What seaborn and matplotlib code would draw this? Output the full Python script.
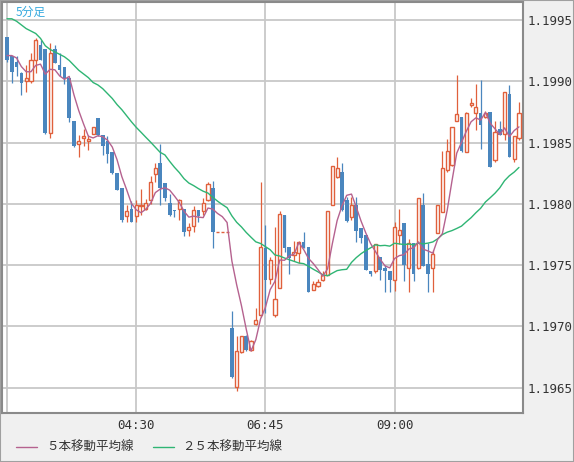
import matplotlib
matplotlib.use("Agg")
import matplotlib.pyplot as plt
from matplotlib.lines import Line2D
from matplotlib.patches import Rectangle
import numpy as np
import pandas as pd
import seaborn as sns

# 5-minute EUR/USD bars, 02:15 .. 11:10
opens = [
    1.19936, 1.19921, 1.19916, 1.19907, 1.19900, 1.19900, 1.19917, 1.19930, 1.19926, 1.19858,
    1.19926, 1.19913, 1.19912, 1.19903, 1.19868, 1.19849, 1.19854, 1.19851, 1.19857, 1.19870,
    1.19856, 1.19851, 1.19842, 1.19825, 1.19813, 1.19790, 1.19796, 1.19790, 1.19798, 1.19796,
    1.19803, 1.19824, 1.19833, 1.19817, 1.19801, 1.19795, 1.19796, 1.19796, 1.19779, 1.19782,
    1.19795, 1.19794, 1.19803, 1.19813, 1.19777, 1.19777, 1.19777, 1.19699, 1.19651, 1.19679,
    1.19692, 1.19681, 1.19702, 1.19709, 1.19764, 1.19739, 1.19709, 1.19731, 1.19791, 1.19765,
    1.19758, 1.19760, 1.19769, 1.19765, 1.19730, 1.19733, 1.19738, 1.19742, 1.19799, 1.19822,
    1.19826, 1.19803, 1.19789, 1.19799, 1.19780, 1.19775, 1.19745, 1.19745, 1.19757, 1.19748,
    1.19745, 1.19738, 1.19775, 1.19784, 1.19748, 1.19768, 1.19748, 1.19799, 1.19751, 1.19748,
    1.19776, 1.19793, 1.19828, 1.19832, 1.19868, 1.19871, 1.19842, 1.19881, 1.19874, 1.19874,
    1.19871, 1.19875, 1.19836, 1.19861, 1.19857, 1.19890, 1.19837, 1.19854,
]
highs = [
    1.19936, 1.19921, 1.19921, 1.19908, 1.19913, 1.19923, 1.19935, 1.19934, 1.19926, 1.19931,
    1.19930, 1.19923, 1.19912, 1.19903, 1.19868, 1.19856, 1.19861, 1.19856, 1.19863, 1.19870,
    1.19856, 1.19855, 1.19842, 1.19825, 1.19813, 1.19799, 1.19802, 1.19803, 1.19812, 1.19804,
    1.19823, 1.19833, 1.19849, 1.19817, 1.19808, 1.19795, 1.19804, 1.19796, 1.19784, 1.19798,
    1.19795, 1.19805, 1.19818, 1.19819, 1.19777, 1.19777, 1.19777, 1.19713, 1.19692, 1.19692,
    1.19693, 1.19689, 1.19715, 1.19818, 1.19783, 1.19757, 1.19781, 1.19794, 1.19791, 1.19765,
    1.19770, 1.19770, 1.19777, 1.19765, 1.19737, 1.19739, 1.19745, 1.19794, 1.19831, 1.19838,
    1.19833, 1.19806, 1.19806, 1.19806, 1.19780, 1.19775, 1.19745, 1.19767, 1.19757, 1.19750,
    1.19745, 1.19785, 1.19796, 1.19784, 1.19771, 1.19768, 1.19805, 1.19809, 1.19768, 1.19762,
    1.19799, 1.19843, 1.19853, 1.19863, 1.19905, 1.19871, 1.19875, 1.19886, 1.19898, 1.19901,
    1.19876, 1.19875, 1.19868, 1.19868, 1.19891, 1.19897, 1.19855, 1.19883,
]
lows = [
    1.19916, 1.19899, 1.19904, 1.19889, 1.19891, 1.19899, 1.19907, 1.19917, 1.19857, 1.19854,
    1.19915, 1.19904, 1.19898, 1.19867, 1.19846, 1.19838, 1.19847, 1.19844, 1.19857, 1.19855,
    1.19840, 1.19833, 1.19824, 1.19811, 1.19785, 1.19785, 1.19785, 1.19785, 1.19791, 1.19795,
    1.19800, 1.19818, 1.19799, 1.19802, 1.19790, 1.19789, 1.19787, 1.19774, 1.19774, 1.19777,
    1.19785, 1.19791, 1.19802, 1.19764, 1.19777, 1.19777, 1.19777, 1.19658, 1.19647, 1.19678,
    1.19680, 1.19680, 1.19701, 1.19708, 1.19711, 1.19735, 1.19708, 1.19731, 1.19761, 1.19743,
    1.19753, 1.19752, 1.19764, 1.19728, 1.19730, 1.19732, 1.19737, 1.19742, 1.19799, 1.19821,
    1.19794, 1.19785, 1.19787, 1.19769, 1.19768, 1.19746, 1.19741, 1.19744, 1.19738, 1.19728,
    1.19728, 1.19729, 1.19767, 1.19737, 1.19728, 1.19737, 1.19747, 1.19749, 1.19728, 1.19728,
    1.19776, 1.19793, 1.19826, 1.19831, 1.19868, 1.19842, 1.19842, 1.19879, 1.19860, 1.19845,
    1.19870, 1.19830, 1.19834, 1.19856, 1.19852, 1.19838, 1.19834, 1.19852,
]
closes = [
    1.19917, 1.19908, 1.19912, 1.19899, 1.19903, 1.19917, 1.19934, 1.19917, 1.19858, 1.19923,
    1.19915, 1.19909, 1.19903, 1.19870, 1.19847, 1.19851, 1.19855, 1.19853, 1.19863, 1.19856,
    1.19847, 1.19841, 1.19825, 1.19811, 1.19787, 1.19794, 1.19785, 1.19799, 1.19799, 1.19801,
    1.19818, 1.19829, 1.19813, 1.19805, 1.19791, 1.19794, 1.19803, 1.19777, 1.19781, 1.19795,
    1.19790, 1.19801, 1.19816, 1.19777, 1.19777, 1.19777, 1.19777, 1.19659, 1.19680, 1.19692,
    1.19681, 1.19688, 1.19705, 1.19765, 1.19738, 1.19754, 1.19722, 1.19792, 1.19764, 1.19756,
    1.19761, 1.19769, 1.19764, 1.19728, 1.19735, 1.19736, 1.19742, 1.19794, 1.19831, 1.19829,
    1.19795, 1.19786, 1.19799, 1.19778, 1.19772, 1.19746, 1.19743, 1.19767, 1.19746, 1.19745,
    1.19738, 1.19781, 1.19779, 1.19750, 1.19768, 1.19743, 1.19805, 1.19749, 1.19743, 1.19759,
    1.19799, 1.19829, 1.19843, 1.19863, 1.19873, 1.19843, 1.19874, 1.19882, 1.19879, 1.19864,
    1.19874, 1.19830, 1.19859, 1.19856, 1.19891, 1.19838, 1.19855, 1.19874,
]

# moving-average values for the first bars (their window starts before the chart)
ma5_warmup = [1.19921, 1.19921, 1.19919, 1.19912]
ma25_warmup = [
    1.19951, 1.19951, 1.19949, 1.19946, 1.19943, 1.19941, 1.19939, 1.19935, 1.19929, 1.19926,
    1.19924, 1.19922, 1.19920, 1.19917, 1.19913, 1.19909, 1.19906, 1.19903, 1.19899, 1.19897,
    1.19894, 1.19890, 1.19886, 1.19881,
]

tick_bars = [0, 27, 54, 81]
tick_labels = ["", "04:30", "06:45", "09:00"]
price_ticks = [1.1965, 1.1970, 1.1975, 1.1980, 1.1985, 1.1990, 1.1995]

UP = "#e0603c"
DOWN = "#4a86be"
MA5_COLOR = "#b5628f"
MA25_COLOR = "#2fb574"


def main():
    sns.set_style("white")
    plt.rcParams["font.family"] = ["DejaVu Sans Mono", "Noto Sans CJK JP"]

    df = pd.DataFrame({"open": opens, "high": highs, "low": lows, "close": closes})
    df["bar"] = np.arange(len(df))
    ma5 = df["close"].rolling(5).mean()
    ma5.iloc[:len(ma5_warmup)] = ma5_warmup
    ma25 = df["close"].rolling(25).mean()
    ma25.iloc[:len(ma25_warmup)] = ma25_warmup
    df["ma5"] = ma5
    df["ma25"] = ma25

    fig = plt.figure(figsize=(5.74, 4.62), dpi=100, facecolor="#f0f0f0")
    ax = fig.add_axes([2 / 574, 49 / 462, 521 / 574, 411 / 462])
    ax.set_facecolor("white")

    up = df[df["close"] >= df["open"]]
    down = df[df["close"] < df["open"]]

    # wicks
    ax.vlines(down["bar"], down["low"], down["high"], color=DOWN, lw=0.9, zorder=2)
    ax.vlines(up["bar"], up["low"], up["open"], color=UP, lw=0.9, zorder=2)
    ax.vlines(up["bar"], up["close"], up["high"], color=UP, lw=0.9, zorder=2)

    # bodies
    ax.bar(down["bar"], down["open"] - down["close"], bottom=down["close"],
           width=0.76, color=DOWN, linewidth=0, zorder=3)
    ax.bar(up["bar"], up["close"] - up["open"], bottom=up["open"],
           width=0.66, facecolor="white", edgecolor=UP, linewidth=1.0, zorder=3)

    sns.lineplot(data=df, x="bar", y="ma25", ax=ax, color=MA25_COLOR, lw=1.0, zorder=4)
    sns.lineplot(data=df, x="bar", y="ma5", ax=ax, color=MA5_COLOR, lw=1.0, zorder=5)

    ax.set_xlim(-1.05, 107.85)
    ax.set_ylim(1.196294, 1.199647)
    ax.set_xticks(tick_bars)
    ax.set_xticklabels(tick_labels)
    ax.set_yticks(price_ticks)
    ax.set_yticklabels([f"{p:.4f}" for p in price_ticks])
    ax.yaxis.tick_right()
    ax.set_xlabel("")
    ax.set_ylabel("")
    ax.grid(True, color="#c8c8c8", lw=1.3, zorder=0)
    ax.set_axisbelow(True)
    ax.tick_params(axis="both", length=0, labelsize=9, colors="#333333")
    ax.tick_params(axis="y", pad=3.6)
    ax.tick_params(axis="x", pad=4.5)
    for side in ax.spines.values():
        side.set_color("#8a8a8a")
        side.set_linewidth(1.5)

    ax.text(14 / 521, 1 - 10 / 411, "5分足", transform=ax.transAxes,
            fontsize=8.5, color="#35a9de", va="center", ha="left",
            family=["Noto Sans CJK JP", "DejaVu Sans"])

    # legend along the bottom strip
    ly = 15 / 462
    fig.add_artist(Line2D([16 / 574, 37 / 574], [ly, ly], color=MA5_COLOR, lw=1.0))
    fig.text(46 / 574, ly, "５本移動平均線", fontsize=9, color="#333333", va="center",
             family=["Noto Sans CJK JP", "DejaVu Sans"])
    fig.add_artist(Line2D([153 / 574, 174 / 574], [ly, ly], color=MA25_COLOR, lw=1.0))
    fig.text(182 / 574, ly, "２５本移動平均線", fontsize=9, color="#333333", va="center",
             family=["Noto Sans CJK JP", "DejaVu Sans"])

    fig.add_artist(Rectangle((0, 0), 1, 1, transform=fig.transFigure, fill=False,
                             edgecolor="#a0a0a0", lw=1.5))

    fig.savefig("out.png", dpi=100, facecolor=fig.get_facecolor())


if __name__ == "__main__":
    main()
